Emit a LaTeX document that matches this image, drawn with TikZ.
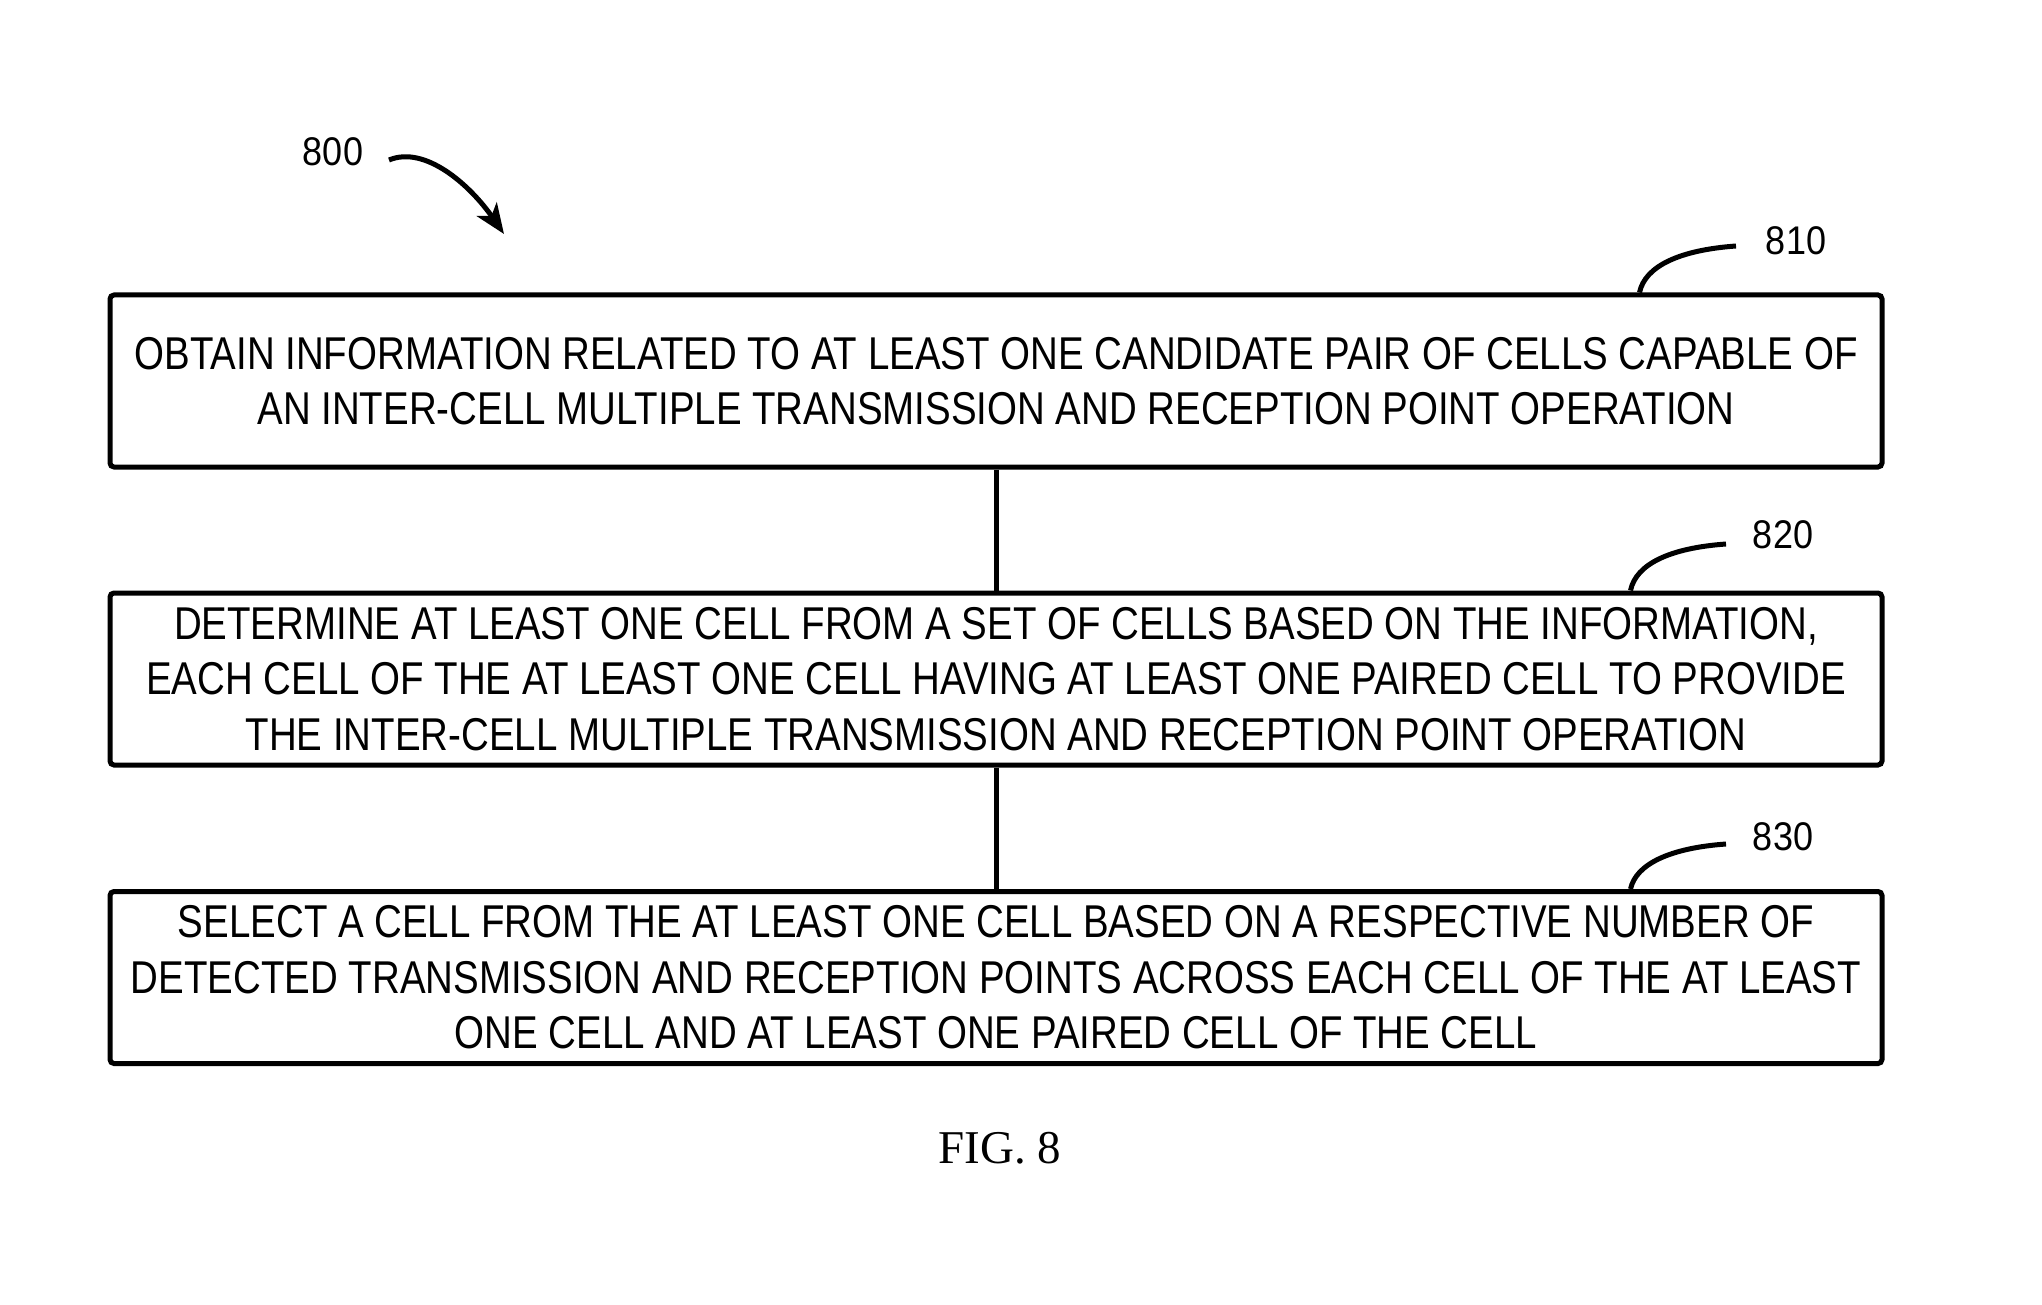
\documentclass[tikz,border=0pt]{standalone}
\usepackage{fontspec}
\setmainfont{Liberation Serif}
\newfontfamily\boxfont[FakeStretch=0.836]{Liberation Sans}
\newfontfamily\numfont[FakeStretch=0.9]{Liberation Sans}
\usetikzlibrary{arrows.meta}
\begin{document}
\begin{tikzpicture}[x=1pt,y=-1pt,
  stepbox/.style={draw,line width=5pt,rounded corners=4pt,minimum width=1772pt,minimum height=172pt,
    align=center,inner sep=0pt,font=\boxfont\fontsize{46}{55.5}\selectfont},
  reflabel/.style={inner sep=0pt,font=\numfont\fontsize{40}{44}\selectfont},
  leader/.style={line width=5pt},
  link/.style={line width=5pt}]
\useasboundingbox (0,0) rectangle (2042,1305);
\node[stepbox] (b1) at (996,381) {OBTAIN INFORMATION RELATED TO AT LEAST ONE CANDIDATE PAIR OF CELLS CAPABLE OF\\AN INTER-CELL MULTIPLE TRANSMISSION AND RECEPTION POINT OPERATION};
\node[stepbox] (b2) at (996,679) {DETERMINE AT LEAST ONE CELL FROM A SET OF CELLS BASED ON THE INFORMATION,\\EACH CELL OF THE AT LEAST ONE CELL HAVING AT LEAST ONE PAIRED CELL TO PROVIDE\\THE INTER-CELL MULTIPLE TRANSMISSION AND RECEPTION POINT OPERATION};
\node[stepbox] (b3) at (996,977.5) {SELECT A CELL FROM THE AT LEAST ONE CELL BASED ON A RESPECTIVE NUMBER OF\\DETECTED TRANSMISSION AND RECEPTION POINTS ACROSS EACH CELL OF THE AT LEAST\\ONE CELL AND AT LEAST ONE PAIRED CELL OF THE CELL};
\draw[link] (b1.south) -- (b2.north);
\draw[link] (b2.south) -- (b3.north);
% reference labels
\node[reflabel] (n800) at (333,152) {800};
\node[reflabel] (n810) at (1796,241) {810};
\node[reflabel] (n820) at (1783,535) {820};
\node[reflabel] (n830) at (1783,837) {830};
\coordinate (a800s) at (389,160);
\coordinate (a800e) at (504,234);
\coordinate (e810) at (1736,246);
\coordinate (e820) at (1726,544);
\coordinate (e830) at (1726,844);
\draw[leader,-{Stealth[length=30pt,width=24pt,inset=8pt]}] (a800s) .. controls (425,145) and (470,185) .. (a800e);
\draw[leader] ([xshift=1532pt]b1.north west) .. controls (1645,266) and (1680,250) .. (e810);
\draw[leader] ([xshift=1523pt]b2.north west) .. controls (1636,564) and (1670,548) .. (e820);
\draw[leader] ([xshift=1523pt]b3.north west) .. controls (1636,864) and (1670,848) .. (e830);
\node[inner sep=0pt,font=\fontsize{47}{50}\selectfont] (fig) at (1000,1148) {FIG. 8};
\end{tikzpicture}
\end{document}
